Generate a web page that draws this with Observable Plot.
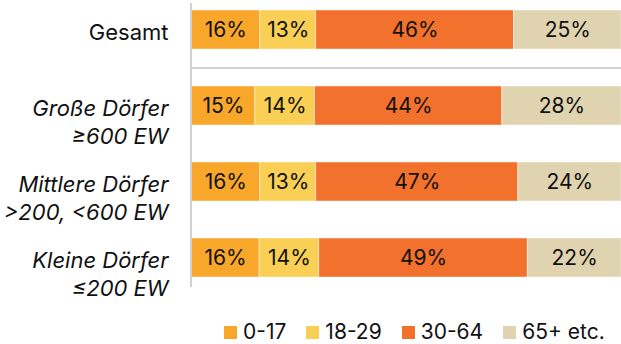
<!DOCTYPE html>
<html>
<head>
<meta charset="utf-8">
<script src="https://cdn.jsdelivr.net/npm/d3@7"></script>
<script src="https://cdn.jsdelivr.net/npm/@observablehq/plot@0.6"></script>
<style>
  html, body { margin: 0; padding: 0; background: #fff; }
  #chart { position: relative; width: 621px; height: 344px; overflow: hidden; font-family: Inter, "Liberation Sans", sans-serif; }
  #legend { position: absolute; left: 224px; top: 319px; width: 420px; white-space: nowrap; }
  #legend .lg-swatches { font-family: Inter, "Liberation Sans", sans-serif !important; font-size: 21px !important; color: #111 !important; min-height: 0 !important; margin: 0 !important; flex-wrap: nowrap !important; }
  #legend .lg-swatch { align-items: baseline !important; margin-right: 20px !important; }
  #legend .lg-swatch > svg { margin-right: 6px !important; }
</style>
</head>
<body>
<div id="chart"><div id="plot"></div><div id="legend"></div></div>
<script>
// Age structure by village size (share of inhabitants per age group)
const groups = ["Gesamt", "Große Dörfer\n≥600 EW", "Mittlere Dörfer\n>200, <600 EW", "Kleine Dörfer\n≤200 EW"];
const ages = ["0-17", "18-29", "30-64", "65+ etc."];
const colors = ["#f9a72b", "#f9cf55", "#f2712c", "#e0d3af"];

const share0_17  = [16, 15, 16, 16];
const share18_29 = [13, 14, 13, 14];
const share30_64 = [46, 44, 47, 49];
const share65    = [25, 28, 24, 22];

const series = [share0_17, share18_29, share30_64, share65];
const data = [];
groups.forEach((g, i) => ages.forEach((a, j) => data.push({group: g, age: a, value: series[j][i]})));

const stack = (opts) => Plot.stackX({offset: "normalize", x: "value", y: "group", z: "age", ...opts});

const labelOpts = {
  y: d => d, x: 0, dx: -23, text: d => d,
  textAnchor: "end", lineAnchor: "top", dy: -10, lineHeight: 1.28,
  fontSize: 22, fill: "#111"
};

const plot = Plot.plot({
  width: 621,
  height: 300,
  marginLeft: 191,
  marginRight: 0,
  marginTop: 0,
  marginBottom: 14,
  style: {fontFamily: "Inter, 'Liberation Sans', sans-serif", background: "#fff"},
  x: {axis: null, domain: [0, 1]},
  y: {axis: null, domain: groups, range: [0, 286], paddingInner: 0.489, paddingOuter: 0.118},
  color: {domain: ages, range: colors},
  marks: [
    Plot.barX(data, stack({fill: "age", stroke: "#fff", strokeOpacity: 0.45, strokeWidth: 1})),
    Plot.text(data, stack({text: d => d.value + "%", fill: "#111", fontSize: 21})),
    // separator between the total and the village groups
    Plot.ruleY([groups[0]], {dy: 38, stroke: "#d2d2d2", strokeWidth: 2}),
    Plot.ruleX([0], {stroke: "#d2d2d2", strokeWidth: 2, insetTop: 3, insetBottom: -1, dx: -0.5}),
    Plot.text(groups.slice(0, 1), {...labelOpts, fontStyle: "normal"}),
    Plot.text(groups.slice(1), {...labelOpts, fontStyle: "italic"})
  ]
});
document.getElementById("plot").appendChild(plot);

const legend = Plot.legend({
  color: {type: "ordinal", domain: ages, range: colors},
  swatchSize: 13,
  className: "lg"
});
document.getElementById("legend").appendChild(legend);
</script>
</body>
</html>
